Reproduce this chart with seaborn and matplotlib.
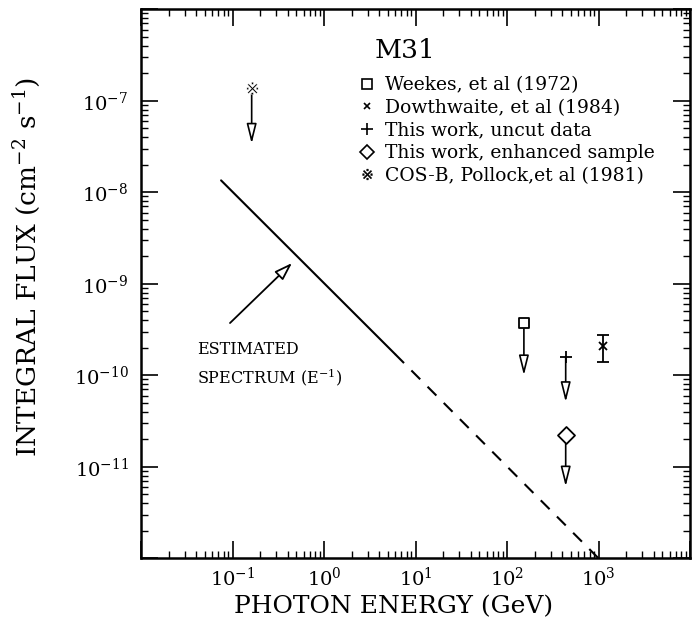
import matplotlib
matplotlib.use("Agg")
import matplotlib.pyplot as plt
import seaborn as sns
from matplotlib.lines import Line2D
from matplotlib.path import Path
from matplotlib.textpath import TextPath
from matplotlib.font_manager import FontProperties

# estimated E^-1 spectrum: measured part (solid) and extrapolation (dashed)
solid_E = [0.075, 6.0]
solid_F = [1.35e-8, 1.7e-10]
dashed_E = [6.0, 1000.0]
dashed_F = [1.7e-10, 1.0e-12]

# upper limits (symbol position and arrow tip)
weekes_E, weekes_F, weekes_tip = [153], [3.7e-10], [1.0e-10]
uncut_E, uncut_F, uncut_tip = [438], [1.58e-10], [5.1e-11]
enh_E, enh_F, enh_tip = [438], [2.2e-11], [6.1e-12]
cosb_E, cosb_F, cosb_tip = [0.162], [1.37e-7], [3.4e-8]

# Dowthwaite detection with error bar
dow_E, dow_F = [1120], [2.09e-10]
dow_lo, dow_hi = [1.41e-10], [2.75e-10]

legend_labels = ["Weekes, et al (1972)", "Dowthwaite, et al (1984)",
                 "This work, uncut data", "This work, enhanced sample",
                 "COS-B, Pollock,et al (1981)"]

x_ticks = [1e-2, 1e-1, 1e0, 1e1, 1e2, 1e3, 1e4]
x_ticklabels = ["", r"$10^{-1}$", r"$10^{0}$", r"$10^{1}$", r"$10^{2}$", r"$10^{3}$", ""]
y_ticks = [1e-12, 1e-11, 1e-10, 1e-9, 1e-8, 1e-7, 1e-6]
y_ticklabels = ["", r"$10^{-11}$", r"$10^{-10}$", r"$10^{-9}$", r"$10^{-8}$", r"$10^{-7}$", ""]

sns.set_theme(style="ticks")
plt.rcParams["font.family"] = ["DejaVu Serif", "DejaVu Sans"]
plt.rcParams["mathtext.fontset"] = "dejavuserif"
plt.rcParams["text.color"] = "black"
plt.rcParams["axes.labelcolor"] = "black"
plt.rcParams["xtick.color"] = "black"
plt.rcParams["ytick.color"] = "black"

# "reference mark" symbol used for the COS-B point
tp = TextPath((0, 0), "\u203b", size=1, prop=FontProperties(family="DejaVu Sans"))
ext = tp.get_extents()
cosb_marker = Path(tp.vertices - [ext.x0 + ext.width / 2, ext.y0 + ext.height / 2], tp.codes)

fig = plt.figure(figsize=(6.92, 6.2), dpi=100)
ax = fig.add_axes([141 / 692, 1 - 558.3 / 620, 549 / 692, 549 / 620])
ax.set(xscale="log", yscale="log", xlim=(1e-2, 1e4), ylim=(1e-12, 1e-6))

sns.lineplot(x=solid_E, y=solid_F, ax=ax, color="black", lw=1.5)
sns.lineplot(x=dashed_E, y=dashed_F, ax=ax, color="black", lw=1.5, linestyle=(0, (6, 5)))

# upper limit arrows
arrow_kw = dict(arrowstyle="-|>,head_length=1.0,head_width=0.25", fc="white", ec="black", lw=1.2)
for E, F, tip, shrink in [(weekes_E, weekes_F, weekes_tip, 4), (uncut_E, uncut_F, uncut_tip, 0),
                          (enh_E, enh_F, enh_tip, 5), (cosb_E, cosb_F, cosb_tip, 4)]:
    ax.annotate("", xy=(E[0], tip[0]), xytext=(E[0], F[0]),
                arrowprops=dict(shrinkA=shrink, shrinkB=0, **arrow_kw))

sns.scatterplot(x=weekes_E, y=weekes_F, ax=ax, marker="s", s=55, color="white", edgecolor="black", linewidth=1.3, zorder=5)
sns.scatterplot(x=enh_E, y=enh_F, ax=ax, marker="D", s=75, color="white", edgecolor="black", linewidth=1.3, zorder=5)
sns.scatterplot(x=uncut_E, y=uncut_F, ax=ax, marker="+", s=80, color="black", linewidth=1.3, zorder=5)
sns.scatterplot(x=cosb_E, y=cosb_F, ax=ax, marker=cosb_marker, s=110, color="black", linewidth=0.3, zorder=5)

ax.errorbar(dow_E, dow_F,
            yerr=[[dow_F[0] - dow_lo[0]], [dow_hi[0] - dow_F[0]]],
            fmt="x", ms=6, mew=1.3, color="black", ecolor="black", elinewidth=1.3, capsize=4, capthick=1.3)

# annotation of the spectrum
ax.annotate("", xy=(0.47, 1.77e-9), xytext=(0.0893, 3.55e-10),
            arrowprops=dict(arrowstyle="-|>,head_length=0.9,head_width=0.3", fc="white", ec="black", lw=1.3))
ax.text(0.102, 0.381, "ESTIMATED", transform=ax.transAxes, fontsize=11.5, va="center")
ax.text(0.102, 0.330, r"SPECTRUM (E$^{-1}$)", transform=ax.transAxes, fontsize=11.5, va="center")

ax.text(0.48, 0.925, "M31", transform=ax.transAxes, fontsize=19, ha="center", va="center")

handles = [
    Line2D([], [], ls="none", marker="s", ms=7, mfc="none", mec="black", mew=1.2),
    Line2D([], [], ls="none", marker="x", ms=5, mec="black", mew=1.2),
    Line2D([], [], ls="none", marker="+", ms=8, mec="black", mew=1.2),
    Line2D([], [], ls="none", marker="D", ms=7, mfc="none", mec="black", mew=1.2),
    Line2D([], [], ls="none", marker=cosb_marker, ms=9, mfc="black", mec="black", mew=0.3),
]
ax.legend(handles, legend_labels, loc="upper left", bbox_to_anchor=(0.4, 0.878),
          frameon=False, fontsize=13.5, handlelength=0.7, handletextpad=0.6,
          labelspacing=0.25, borderpad=0, borderaxespad=0)

ax.set_xticks(x_ticks)
ax.set_xticklabels(x_ticklabels)
ax.set_yticks(y_ticks)
ax.set_yticklabels(y_ticklabels)
ax.tick_params(which="both", direction="in", top=True, right=True, labelsize=14)
ax.tick_params(which="major", length=12, width=1.2)
ax.tick_params(which="minor", length=5, width=1.0)
ax.tick_params(axis="y", pad=9)
ax.tick_params(axis="x", pad=6)
for sp in ax.spines.values():
    sp.set_linewidth(1.8)
    sp.set_color("black")

ax.set_xlabel("PHOTON ENERGY (GeV)", fontsize=18)
ax.set_ylabel(r"INTEGRAL FLUX (cm$^{-2}$ s$^{-1}$)", fontsize=19)
ax.xaxis.set_label_coords(0.46, -0.068)
ax.yaxis.set_label_coords(-0.18, 0.53)

fig.savefig("out.png", dpi=100)
